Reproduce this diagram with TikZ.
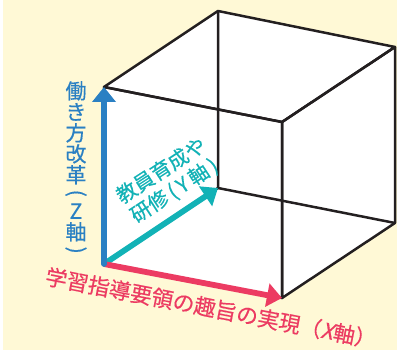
\documentclass[tikz,border=0pt]{standalone}
\usepackage{fontspec}
\newfontfamily\jpfont[FakeBold=0.4]{Noto Sans CJK JP}
\newfontfamily\jpslant[FakeSlant=0.2,FakeBold=0.4]{Noto Sans CJK JP}
\usetikzlibrary{arrows.meta}
\definecolor{cream}{HTML}{FFF9D6}
\definecolor{zblue}{HTML}{2A80C3}
\definecolor{yteal}{HTML}{12B2B6}
\definecolor{xred}{HTML}{EC3B62}
\definecolor{cubeline}{HTML}{231F20}
\newcommand{\vparen}[1]{\rotatebox[origin=c]{-90}{#1}}

\begin{document}
\begin{tikzpicture}[x=0.5pt,y=-0.5pt,
    edge/.style={line width=1.25pt, draw=cubeline, line join=round},
    axis/.style={line width=2.9pt, -{Triangle[length=7.5pt,width=11.5pt]}},
    lbl/.style={inner sep=0pt, align=center, font=\jpfont\fontsize{10.5}{10.5}\selectfont}]
    \useasboundingbox (0,0) rectangle (397,352);
    \fill[cream] (3,0) rectangle (397,350);
    % corners of the cube
    \coordinate (O) at (104,264);
    \coordinate (FTL) at (104,87);
    \coordinate (FTR) at (282,122);
    \coordinate (FBR) at (282,298);
    \coordinate (BTL) at (218,11);
    \coordinate (BTR) at (395,47);
    \coordinate (BBR) at (395,223);
    \coordinate (BBL) at (218,188);
    \fill[white] (FTL) -- (BTL) -- (BTR) -- (BBR) -- (FBR) -- (O) -- cycle;
    \draw[edge] (BTL) -- (BBL) -- (BBR);
    \draw[edge] (BBL) -- (O);
    \draw[edge] (FTL) -- (BTL) -- (BTR) -- (FTR) -- cycle;
    \draw[edge] (FTR) -- (BTR) -- (BBR) -- (FBR) -- cycle;
    \draw[edge] (O) -- (FTL) -- (FTR) -- (FBR) -- cycle;
    % the three axes
    \draw[axis, yteal] (O) -- (BBL);
    \draw[axis, xred] (O) -- (FBR);
    \draw[axis, zblue, line cap=round] (O) -- (FTL);
    \node[lbl, zblue] (zlabel) at (76,169) {働\\き\\方\\改\\革\\[-2pt]\vparen{(}\\[-1pt]Z\\軸\\[-2pt]\vparen{)}};
    \node[lbl, yteal, rotate=33, font=\jpfont\fontsize{10.2}{12}\selectfont] (ylabel) at (168,181) {教員育成や\\研修\,(\,Y\,軸\,)};
    \node[lbl, xred, rotate=-11, font=\jpfont\fontsize{10.8}{10.8}\selectfont] (xlabel) at (211,308) {学習指導要領の趣旨の実現（{\jpslant X}軸）};
\end{tikzpicture}
\end{document}
